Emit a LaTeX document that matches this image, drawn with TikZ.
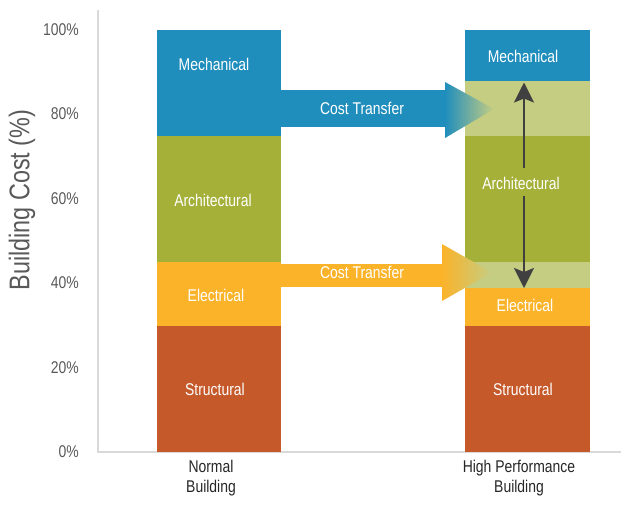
\documentclass[tikz,border=0pt]{standalone}
\usepackage{fontspec}
\setmainfont{Liberation Sans}[FakeStretch=0.82]
\usetikzlibrary{arrows.meta}
\definecolor{mechblue}{RGB}{32,142,189}
\definecolor{archgreen}{RGB}{165,176,57}
\definecolor{lightgreen}{RGB}{197,205,130}
\definecolor{elecorange}{RGB}{251,179,42}
\definecolor{structrust}{RGB}{197,89,42}
\definecolor{axisgray}{RGB}{217,217,217}
\definecolor{ticktext}{RGB}{89,89,89}
\definecolor{arrowgray}{RGB}{64,64,64}
\begin{document}
\begin{tikzpicture}[x=1pt,y=-1pt,
  seglabel/.style={text=white,font=\fontsize{17}{20}\selectfont,inner sep=0pt},
  ticklabel/.style={text=ticktext,font=\fontsize{17}{20}\selectfont,anchor=east,inner sep=0pt},
  catlabel/.style={text=black!85,font=\fontsize{17}{20}\selectfont,align=center,inner sep=0pt},
  axisline/.style={draw=axisgray,line width=1.5pt},
  shiftarrow/.style={draw=arrowgray,line width=2.2pt,-{Stealth[length=20pt,width=20pt,inset=4pt]}}
]
\useasboundingbox (0,0) rectangle (621,504);
% axes
\draw[axisline] (98,10) -- (98,452) -- (621,452);
% tick labels
\node[ticklabel] (t100) at (79,30) {100\%};
\node[ticklabel] (t80) at (79,114) {80\%};
\node[ticklabel] (t60) at (79,199) {60\%};
\node[ticklabel] (t40) at (79,283) {40\%};
\node[ticklabel] (t20) at (79,368) {20\%};
\node[ticklabel] (t0) at (79,452) {0\%};
\node[rotate=90,text=ticktext,font=\fontsize{28.5}{32}\selectfont,inner sep=0pt] (ytitle) at (22,200) {Building Cost (\%)};
% left bar
\fill[mechblue] (157,30) rectangle (281,136);
\fill[archgreen] (157,136) rectangle (281,262);
\fill[elecorange] (157,262) rectangle (281,326);
\fill[structrust] (157,326) rectangle (281,452);
% right bar
\fill[mechblue] (465,30) rectangle (590,81);
\fill[lightgreen] (465,81) rectangle (590,136);
\fill[archgreen] (465,136) rectangle (590,262);
\fill[lightgreen] (465,262) rectangle (590,288);
\fill[elecorange] (465,288) rectangle (590,326);
\fill[structrust] (465,326) rectangle (590,452);
% cost transfer arrows
\fill[mechblue] (281,90) rectangle (446,127);
\shade[left color=mechblue,right color=lightgreen] (445,82) -- (494,109) -- (445,138) -- cycle;
\fill[elecorange] (281,264) rectangle (443,287);
\shade[left color=elecorange,right color=lightgreen] (442,244) -- (492,272.5) -- (442,301) -- cycle;
% segment labels
\node[seglabel] (mechL) at (214,64) {Mechanical};
\node[seglabel] (archL) at (213,200) {Architectural};
\node[seglabel] (elecL) at (216,295) {Electrical};
\node[seglabel] (strL) at (215,389) {Structural};
\node[seglabel] (mechR) at (523,56) {Mechanical};
\node[seglabel] (archR) at (521,183) {Architectural};
\node[seglabel] (elecR) at (525,305) {Electrical};
\node[seglabel] (strR) at (523,389) {Structural};
\node[seglabel] (xferA) at (362,108) {Cost Transfer};
\node[seglabel] (xferB) at (362,272) {Cost Transfer};
% shift arrows
\coordinate (upStart) at (524,168);
\coordinate (upTip) at (524,82.5);
\coordinate (dnStart) at (524,196);
\coordinate (dnTip) at (524,288);
\draw[shiftarrow] (upStart) -- (upTip);
\draw[shiftarrow] (dnStart) -- (dnTip);
% category labels
\node[catlabel] (catL) at (211,478) {Normal\\Building};
\node[catlabel] (catR) at (519,478) {High Performance\\Building};
\end{tikzpicture}
\end{document}
